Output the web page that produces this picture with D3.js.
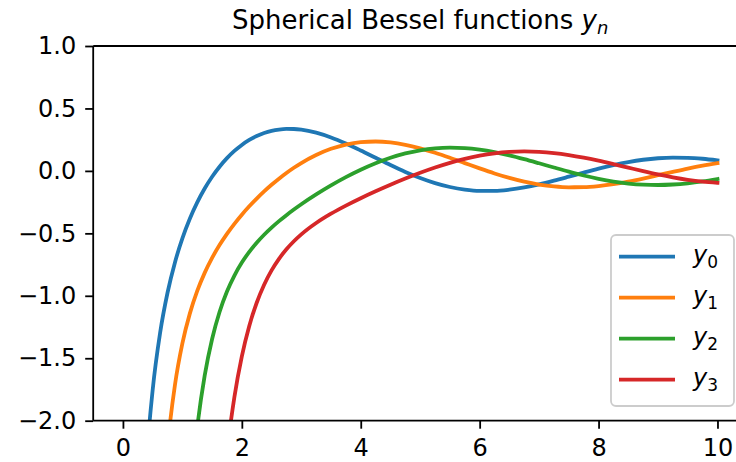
<!DOCTYPE html>
<html>
<head>
<meta charset="utf-8">
<script src="https://cdn.jsdelivr.net/npm/d3@7"></script>
<style>
  html, body { margin: 0; padding: 0; background: #fff; }
  svg { display: block; font-family: "DejaVu Sans", sans-serif; }
</style>
</head>
<body>
<svg id="chart" width="736" height="462"></svg>
<script>
// ---- data ----
const xValues = [0.25,0.375,0.5,0.625,0.75,0.875,1,1.125,1.25,1.375,1.5,1.625,1.75,1.875,2,2.125,2.25,2.375,2.5,2.625,2.75,2.875,3,
  3.25,3.5,3.75,4,4.25,4.5,4.75,5,5.25,5.5,5.75,6,6.25,6.5,6.75,7,7.25,7.5,7.75,8,8.25,8.5,8.75,9,9.25,9.5,9.75,10];
const y0Values = [-3.8756,-2.4814,-1.7552,-1.2975,-0.9756,-0.7326,-0.5403,-0.3833,-0.2523,-0.1415,-0.0472,0.0333,0.1019,0.1598,0.2081,0.2477,0.2792,0.3033,0.3205,0.3312,0.3361,0.3355,0.3300,
  0.3059,0.2676,0.2188,0.1634,0.1050,0.0468,-0.0079,-0.0567,-0.0975,-0.1288,-0.1498,-0.1600,-0.1599,-0.1502,-0.1323,-0.1077,-0.0783,-0.0462,-0.0134,0.0182,0.0468,0.0708,0.0892,0.1012,0.1065,0.1050,0.0972,0.0839];
const y1Values = [-16.4922,-7.5937,-4.4692,-3.0122,-2.2096,-1.7144,-1.3818,-1.1427,-0.9610,-0.8163,-0.6964,-0.5940,-0.5041,-0.4236,-0.3506,-0.2836,-0.2217,-0.1644,-0.1112,-0.0620,-0.0166,0.0251,0.0630,
  0.1274,0.1767,0.2108,0.2301,0.2353,0.2276,0.2087,0.1804,0.1450,0.1049,0.0623,0.0199,-0.0203,-0.0562,-0.0863,-0.1092,-0.1243,-0.1312,-0.1301,-0.1214,-0.1062,-0.0856,-0.0612,-0.0345,-0.0073,0.0190,0.0427,0.0628];
const y2Values = [null,null,-25.0599,-13.1611,-7.8629,-5.1454,-3.6050,-2.6639,-2.0541,-1.6395,-1.3457,-1.1299,-0.9660,-0.8376,-0.7340,-0.6480,-0.5748,-0.5109,-0.4539,-0.4021,-0.3542,-0.3094,-0.2670,
  -0.1883,-0.1161,-0.0502,0.0091,0.0611,0.1049,0.1397,0.1650,0.1804,0.1860,0.1823,0.1700,0.1502,0.1243,0.0940,0.0609,0.0269,-0.0063,-0.0370,-0.0637,-0.0854,-0.1010,-0.1102,-0.1128,-0.1088,-0.0990,-0.0840,-0.0651];
const y3Values = [null,null,null,null,null,-27.688,-16.6433,-10.6970,-7.2555,-5.1455,-3.7893,-2.8826,-2.2559,-1.8099,-1.4844,-1.2412,-1.0557,-0.9112,-0.7966,-0.7039,-0.6274,-0.5631,-0.5080,
  -0.4171,-0.3426,-0.2777,-0.2186,-0.1634,-0.1111,-0.0616,-0.0154,0.0268,0.0643,0.0962,0.1218,0.1404,0.1518,0.1559,0.1527,0.1429,0.1270,0.1062,0.0816,0.0544,0.0262,-0.0018,-0.0281,-0.0515,-0.0711,-0.0858,-0.0953];
const seriesSubscripts = ["0","1","2","3"];
const seriesColors = ["#1f77b4","#ff7f0e","#2ca02c","#d62728"];
const xTicks = [0,2,4,6,8,10];
const yTicks = [-2.0,-1.5,-1.0,-0.5,0.0,0.5,1.0];
const titleText = "Spherical Bessel functions ";

const allSeries = [y0Values, y1Values, y2Values, y3Values];

// ---- layout ----
const svg = d3.select("#chart");
const pL = 93.2, pR = 747.2, pT = 46, pB = 420.7;

const x = d3.scaleLinear().domain([-0.5, 10.5]).range([pL, pR]);
const y = d3.scaleLinear().domain([-2, 1]).range([pB, pT]);

svg.append("defs").append("clipPath").attr("id", "plotclip")
  .append("rect").attr("x", pL).attr("y", pT).attr("width", pR - pL).attr("height", pB - pT);

// ---- lines ----
const line = d3.line()
  .defined(d => d[1] !== null)
  .x(d => x(d[0]))
  .y(d => y(d[1]))
  .curve(d3.curveMonotoneX);

const plot = svg.append("g").attr("clip-path", "url(#plotclip)");
allSeries.forEach((vals, i) => {
  const pts = xValues.map((xv, k) => [xv, vals[k]]);
  plot.append("path")
    .datum(pts)
    .attr("d", line)
    .attr("fill", "none")
    .attr("stroke", seriesColors[i])
    .attr("stroke-width", 3.8)
    .attr("stroke-linecap", "square")
    .attr("stroke-linejoin", "round");
});

// ---- axes ----
const fmtY = v => d3.format(".1f")(v).replace("-", "\u2212");
const xAxis = d3.axisBottom(x).tickValues(xTicks).tickFormat(d3.format("d")).tickSize(8).tickPadding(10);
const yAxis = d3.axisLeft(y).tickValues(yTicks).tickFormat(fmtY).tickSize(8).tickPadding(9);

const gx = svg.append("g").attr("transform", `translate(0,${pB})`).call(xAxis);
const gy = svg.append("g").attr("transform", `translate(${pL},0)`).call(yAxis);
[gx, gy].forEach(g => {
  g.select(".domain").remove();
  g.selectAll(".tick line").attr("stroke", "#000").attr("stroke-width", 1.8);
  g.selectAll(".tick text").attr("fill", "#000").attr("font-size", 24).attr("font-family", "DejaVu Sans");
});

// spines
const spineStyle = sel => sel.attr("stroke", "#000").attr("stroke-width", 1.8).attr("fill", "none");
svg.append("line").attr("x1", pL).attr("x2", pL).attr("y1", pT).attr("y2", pB).call(spineStyle);
svg.append("line").attr("x1", pL).attr("x2", pR).attr("y1", pT).attr("y2", pT).call(spineStyle);
svg.append("line").attr("x1", pL).attr("x2", pR).attr("y1", pB).attr("y2", pB).call(spineStyle);
svg.append("line").attr("x1", pR).attr("x2", pR).attr("y1", pT).attr("y2", pB).call(spineStyle);

// ---- title ----
const title = svg.append("text")
  .attr("x", (pL + pR) / 2)
  .attr("y", 28.5)
  .attr("text-anchor", "middle")
  .attr("font-size", 26)
  .attr("fill", "#000");
title.append("tspan").text(titleText);
title.append("tspan").attr("font-style", "italic").text("y");
title.append("tspan").attr("font-style", "italic").attr("font-size", 18).attr("dy", 5).text("n");

// ---- legend ----
const lg = svg.append("g");
const lgLeft = 611, lgTop = 235, lgW = 123, lgH = 171;
lg.append("rect")
  .attr("x", lgLeft).attr("y", lgTop).attr("width", lgW).attr("height", lgH)
  .attr("rx", 5).attr("ry", 5)
  .attr("fill", "#fff").attr("fill-opacity", 0.8)
  .attr("stroke", "#cccccc").attr("stroke-width", 1.8);
const rowY = d3.scaleLinear().domain([0, 3]).range([256.7, 379.7]);
seriesSubscripts.forEach((sub, i) => {
  const yy = rowY(i);
  lg.append("line").attr("x1", 619).attr("x2", 675).attr("y1", yy).attr("y2", yy)
    .attr("stroke", seriesColors[i]).attr("stroke-width", 3.8);
  const t = lg.append("text").attr("x", 693).attr("y", yy + 6.5).attr("font-size", 24).attr("fill", "#000");
  t.append("tspan").attr("font-style", "italic").text("y");
  t.append("tspan").attr("font-size", 17).attr("dy", 4.5).text(sub);
});
</script>
</body>
</html>
